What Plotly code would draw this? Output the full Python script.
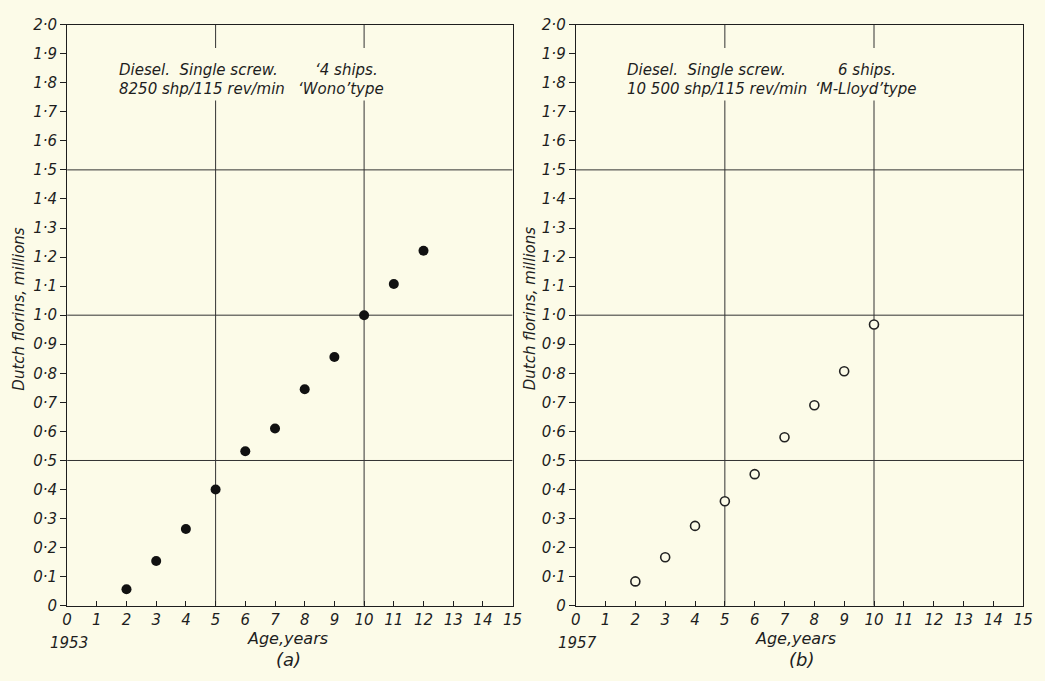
import plotly.graph_objects as go
from plotly.subplots import make_subplots

# ---- data ----
age_a = [2, 3, 4, 5, 6, 7, 8, 9, 10, 11, 12]
cost_a = [0.057, 0.154, 0.264, 0.400, 0.532, 0.610, 0.745, 0.856, 1.000, 1.107, 1.222]
age_b = [2, 3, 4, 5, 6, 7, 8, 9, 10]
cost_b = [0.084, 0.167, 0.275, 0.360, 0.453, 0.580, 0.690, 0.807, 0.968]

x_ticks = list(range(0, 16))
x_ticklabels = [str(v) for v in x_ticks]
y_ticks = [i / 10 for i in range(0, 21)]
y_ticklabels = ["0"] + [f"{v:.1f}".replace(".", "·") for v in y_ticks[1:]]
grid_x = [5, 10]
grid_y = [0.5, 1.0, 1.5]

W, H = 1045, 681
BG = "#fcfbe8"
INK = "#1e1e1e"
FONT = "DejaVu Sans"


def px(x):
    return x / W


def py(y):
    return 1 - y / H


fig = make_subplots(rows=1, cols=2)

fig.add_trace(go.Scatter(x=age_a, y=cost_a, mode="markers",
                         marker=dict(size=10, color="#111111", line=dict(width=0)),
                         showlegend=False), row=1, col=1)
fig.add_trace(go.Scatter(x=age_b, y=cost_b, mode="markers",
                         marker=dict(size=9, color=BG, line=dict(width=1.6, color="#222222")),
                         showlegend=False), row=1, col=2)

tickfont = dict(family=FONT, size=15, color=INK, style="italic")
xdomains = [[px(63), px(515)], [px(579), px(1033)]]
ydomain = [py(613), py(16)]

for i, (xa, ya) in enumerate([("xaxis", "yaxis"), ("xaxis2", "yaxis2")]):
    fig.layout[xa].update(domain=xdomains[i], range=[0, 15], tickvals=x_ticks,
                          ticktext=x_ticklabels, ticks="inside", ticklen=5,
                          tickcolor=INK, showline=True, linecolor=INK, linewidth=1,
                          mirror=True, showgrid=False, zeroline=False,
                          tickfont=tickfont, fixedrange=True)
    fig.layout[ya].update(domain=ydomain, range=[0, 2.0], tickvals=y_ticks,
                          ticktext=y_ticklabels, ticks="outside", ticklen=6,
                          tickcolor=INK, showline=True, linecolor=INK, linewidth=1,
                          mirror=True, showgrid=False, zeroline=False,
                          tickfont=tickfont, fixedrange=True)

shapes = []
for xr, yr in [("x", "y"), ("x2", "y2")]:
    for gx in grid_x:
        shapes.append(dict(type="line", xref=xr, yref=yr, x0=gx, x1=gx, y0=0, y1=2.0,
                           line=dict(color="#333333", width=1), layer="below"))
    for gy in grid_y:
        shapes.append(dict(type="line", xref=xr, yref=yr, x0=0, x1=15, y0=gy, y1=gy,
                           line=dict(color="#333333", width=1), layer="below"))

# blank area behind heading text (gridlines interrupted)
for x0, x1 in [(110, 392), (625, 940)]:
    shapes.append(dict(type="rect", xref="paper", yref="paper",
                       x0=px(x0), x1=px(x1), y0=py(94), y1=py(40),
                       fillcolor=BG, line=dict(width=0), layer="above"))

fig.update_layout(shapes=shapes)

txt = dict(family=FONT, size=15, color=INK, style="italic")
anns = [
    # panel (a) heading
    (114, 63, "Diesel.  Single screw.", "left", txt),
    (312, 63, "‘4 ships.", "left", txt),
    (114, 82, "8250 shp/115 rev/min", "left", txt),
    (295, 82, "‘Wono’type", "left", txt),
    # panel (b) heading
    (629, 63, "Diesel.  Single screw.", "left", txt),
    (843, 63, "6 ships.", "left", txt),
    (629, 82, "10 500 shp/115 rev/min", "left", txt),
    (820, 82, "‘M-Lloyd’type", "left", txt),
    # bottom labels
    (65, 651, "1953", "center", txt),
    (287, 647, "Age,years", "center", dict(txt, size=16)),
    (288, 668, "(a)", "center", dict(txt, size=18)),
    (581, 651, "1957", "center", txt),
    (802, 647, "Age,years", "center", dict(txt, size=16)),
    (808, 668, "(b)", "center", dict(txt, size=18)),
]
annotations = []
for x, y, t, anc, f in anns:
    annotations.append(dict(x=px(x), y=py(y), xref="paper", yref="paper", text=t,
                            showarrow=False, xanchor=anc, yanchor="middle", font=f))
for x in [14, 532]:
    annotations.append(dict(x=px(x), y=py(308), xref="paper", yref="paper",
                            text="Dutch florins, millions", textangle=-90,
                            showarrow=False, xanchor="center", yanchor="middle",
                            font=dict(txt, size=15)))
fig.update_layout(annotations=annotations)

fig.update_layout(width=W, height=H, margin=dict(l=0, r=0, t=0, b=0),
                  paper_bgcolor=BG, plot_bgcolor=BG, showlegend=False)

fig.write_html("out.html", config={"displayModeBar": False},
               post_script="document.body.style.margin='0';"
                           "document.body.style.overflow='hidden';"
                           "document.body.style.background='" + BG + "';")
